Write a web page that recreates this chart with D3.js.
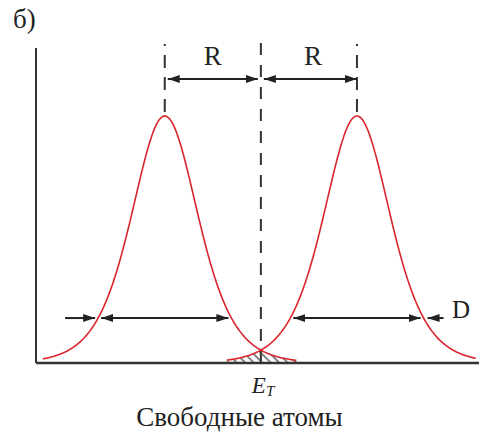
<!DOCTYPE html>
<html>
<head>
<meta charset="utf-8">
<script src="https://cdn.jsdelivr.net/npm/d3@7"></script>
<style>
body { margin: 0; background: #fff; }
text { font-family: "Liberation Serif", "Times New Roman", serif; fill: #222; }
</style>
</head>
<body>
<div id="viz"></div>
<script>
let w = 479;
let h = 432;

// energy axis, E_T sits at 0, the two peaks at -R and +R
let peakCentres = [-1, 1];
let peakWidth = 0.4635;
let curveRanges = [[-2.27, 0.375], [-0.354, 2.24]];
let levelD = 0.182;           // height where the D widths are drawn
let rLabels = ["R", "R"];
let panelLabel = "б)";
let widthLabel = "D";
let caption = "Свободные атомы";

let x = d3.scaleLinear().domain([-2.34, 2.27]).range([36, 479]);
let y = d3.scaleLinear().domain([0, 1]).range([363, 116]);

function band(c, e) {
    let s = 1 / Math.cosh((e - c) / peakWidth);
    return s * s;
}

let viz = d3.select("#viz")
    .append("svg")
    .attr("width", w)
    .attr("height", h)
    .attr("viewBox", "0 0 " + w + " " + h);

let defs = viz.append("defs");
defs.append("marker")
    .attr("id", "head")
    .attr("markerUnits", "userSpaceOnUse")
    .attr("viewBox", "0 -5 12 10")
    .attr("refX", 12)
    .attr("refY", 0)
    .attr("markerWidth", 12)
    .attr("markerHeight", 10)
    .attr("orient", "auto-start-reverse")
    .append("path")
    .attr("d", "M0,-4L12,0L0,4Z")
    .attr("fill", "#222");

let hatch = defs.append("pattern")
    .attr("id", "hatch")
    .attr("patternUnits", "userSpaceOnUse")
    .attr("width", 6)
    .attr("height", 6)
    .attr("patternTransform", "rotate(-45)");
hatch.append("line")
    .attr("x1", 1).attr("y1", 0)
    .attr("x2", 1).attr("y2", 6)
    .attr("stroke", "#666")
    .attr("stroke-width", 1.6);

// hatched overlap under both bands
let overlap = d3.range(curveRanges[1][0], curveRanges[0][1] + 0.001, 0.005);
viz.append("path")
    .datum(overlap)
    .attr("d", d3.area()
        .x(e => x(e))
        .y0(y(0))
        .y1(e => y(Math.min(band(peakCentres[0], e), band(peakCentres[1], e)))))
    .attr("fill", "url(#hatch)");

// axes
viz.append("line")
    .attr("x1", x.range()[0]).attr("x2", x.range()[0])
    .attr("y1", 48).attr("y2", y(0))
    .attr("stroke", "#333").attr("stroke-width", 2);
viz.append("line")
    .attr("x1", x.range()[0]).attr("x2", x.range()[1])
    .attr("y1", y(0)).attr("y2", y(0))
    .attr("stroke", "#333").attr("stroke-width", 2.5);

// dashed guides
peakCentres.forEach(c => {
    viz.append("line")
        .attr("x1", x(c)).attr("x2", x(c))
        .attr("y1", 44).attr("y2", y(1))
        .attr("stroke", "#333").attr("stroke-width", 2)
        .attr("stroke-dasharray", "2,9,13,9,13,9,13,9");
});
viz.append("line")
    .attr("x1", x(0)).attr("x2", x(0))
    .attr("y1", 43).attr("y2", y(0))
    .attr("stroke", "#333").attr("stroke-width", 2)
    .attr("stroke-dasharray", "12,10");

// bands
let line = d3.line().x(d => x(d[0])).y(d => y(d[1]));
peakCentres.forEach((c, i) => {
    let pts = d3.range(curveRanges[i][0], curveRanges[i][1] + 0.001, 0.01)
        .map(e => [e, band(c, e)]);
    viz.append("path")
        .attr("d", line(pts))
        .attr("fill", "none")
        .attr("stroke", "#d9262c")
        .attr("stroke-width", 1.6);
});

function arrow(x1, x2, yy, both) {
    let l = viz.append("line")
        .attr("x1", x1).attr("x2", x2)
        .attr("y1", yy).attr("y2", yy)
        .attr("stroke", "#222").attr("stroke-width", 2)
        .attr("marker-end", "url(#head)");
    if (both) l.attr("marker-start", "url(#head)");
}

// R arrows
let gap = 3;
let yR = 79;
arrow(x(peakCentres[0]) + gap, x(0) - gap, yR, true);
arrow(x(0) + gap, x(peakCentres[1]), yR, true);
rLabels.forEach((t, i) => {
    viz.append("text")
        .attr("x", (x(peakCentres[i]) + x(0)) / 2 + (i ? 4 : 0))
        .attr("y", 65)
        .attr("text-anchor", "middle")
        .attr("font-size", 27)
        .text(t);
});

// D widths
let half = peakWidth * Math.acosh(1 / Math.sqrt(levelD));
let yD = y(levelD);
peakCentres.forEach((c, i) => {
    let a = x(c - half), b = x(c + half);
    arrow(a + gap, b - gap, yD, true);
});
arrow(x(peakCentres[0] - half) - 33, x(peakCentres[0] - half) - gap, yD, false);
arrow(x(peakCentres[1] + half) + 20, x(peakCentres[1] + half) + gap + 1, yD, false);

viz.append("text")
    .attr("x", 452).attr("y", 318)
    .attr("font-size", 25)
    .text(widthLabel);

viz.append("text")
    .attr("x", 13).attr("y", 28)
    .attr("font-size", 27)
    .text(panelLabel);

let et = viz.append("text")
    .attr("x", x(0) - 9).attr("y", 393)
    .attr("font-size", 23)
    .attr("font-style", "italic");
et.append("tspan").text("E");
et.append("tspan").attr("dy", 3).attr("font-size", 15).text("T");

viz.append("text")
    .attr("x", 239.5).attr("y", 426)
    .attr("text-anchor", "middle")
    .attr("font-size", 27)
    .text(caption);
</script>
</body>
</html>
